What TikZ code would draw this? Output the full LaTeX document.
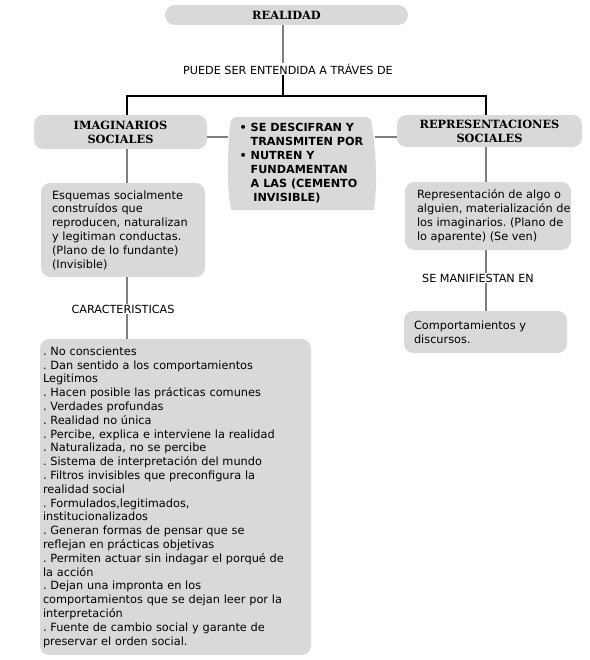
\documentclass[tikz,border=0pt]{standalone}
\usepackage{fontspec}
\setmainfont{DejaVu Sans}
\newfontfamily\serifhead{DejaVu Serif}
\definecolor{boxfill}{HTML}{D9D9D9}
\definecolor{linegray}{HTML}{7F7F7F}
\frenchspacing
\begin{document}
\frenchspacing
\begin{tikzpicture}[x=0.75pt,y=-0.75pt,
  box/.style={fill=boxfill, rounded corners=7pt, inner ysep=0pt},
  conn/.style={draw=linegray, line width=0.9pt},
  mainconn/.style={draw=black, line width=1.3pt},
  lbl/.style={font=\fontsize{8.4}{10.3}\selectfont, inner sep=0.5pt},
  head/.style={font=\fontsize{8.5}{10.6}\selectfont\serifhead\bfseries, align=center, inner xsep=0pt},
  body/.style={font=\fontsize{8.5}{10.35}\selectfont, align=left},
  midtext/.style={font=\fontsize{8.4}{10.5}\selectfont\bfseries, align=left, inner sep=0pt}
]
\useasboundingbox (0,0) rectangle (589,660);

% boxes
\node[box, head, minimum width=182.25pt, minimum height=15pt, rounded corners=7.5pt] (real) at (286.5,15) {REALIDAD};
\node[box, head, minimum width=129.75pt, minimum height=25.5pt] (imag) at (120.5,132) {IMAGINARIOS\\SOCIALES};
\node[box, head, minimum width=138.75pt, minimum height=24pt] (repr) at (489.5,131) {REPRESENTACIONES\\SOCIALES};

% centre box with slightly bulging sides
\fill[boxfill] (238,117) -- (364,117)
  .. controls (370,117) and (372,120) .. (372,126)
  .. controls (377,158) and (377,188) .. (374,210)
  -- (231,210)
  .. controls (227,188) and (227,158) .. (230,126)
  .. controls (230,120) and (232,117) .. (238,117) -- cycle;
\node[midtext, minimum width=110.25pt, minimum height=69.75pt] (mid) at (301.5,163.5)
  {\textbullet\ SE DESCIFRAN Y\\
   \phantom{\textbullet\ }TRANSMITEN POR\\
   \textbullet\ NUTREN Y\\
   \phantom{\textbullet\ }FUNDAMENTAN\\
   \phantom{\textbullet\ }A LAS (CEMENTO\\
   \phantom{\textbullet\ }\hspace{2pt}INVISIBLE)};

\node[box, body, inner xsep=8.25pt, text width=106.5pt, minimum height=70.5pt] (esq) at (123,230)
  {Esquemas socialmente\\
   construídos que\\
   reproducen, naturalizan\\
   y legitiman conductas.\\
   (Plano de lo fundante)\\
   (Invisible)};

\node[box, body, inner xsep=2.25pt, text width=198.75pt, minimum height=237pt] (list) at (175.5,497)
  {. No conscientes\\
   . Dan sentido a los comportamientos\\
   Legitimos\\
   . Hacen posible las prácticas comunes\\
   . Verdades profundas\\
   . Realidad no única\\
   . Percibe, explica e interviene la realidad\\
   . Naturalizada, no se percibe\\
   . Sistema de interpretación del mundo\\
   . Filtros invisibles que preconfigura la\\
   realidad social\\
   . Formulados,legitimados,\\
   institucionalizados\\
   . Generan formas de pensar que se\\
   reflejan en prácticas objetivas\\
   . Permiten actuar sin indagar el porqué de\\
   la acción\\
   . Dejan una impronta en los\\
   comportamientos que se dejan leer por la\\
   interpretación\\
   . Fuente de cambio social y garante de\\
   preservar el orden social.};

\node[box, minimum width=124.5pt, minimum height=51pt] (rep2) at (488,216) {};
\node[body, anchor=west, inner sep=0pt] (rep2text) at ([xshift=9pt]rep2.west)
  {Representación de algo o\\
   alguien, materialización de\\
   los imaginarios. (Plano de\\
   lo aparente) (Se ven)};

\node[box, minimum width=122.25pt, minimum height=31.5pt] (comp) at (485.5,332) {};
\node[body, anchor=west, inner sep=0pt] (comptext) at ([xshift=7.5pt]comp.west)
  {Comportamientos y\\
   discursos.};

% labels
\node[lbl] (puede) at (288,69) {PUEDE SER ENTENDIDA A TRÁVES DE};
\node[lbl] (carac) at (123,309) {CARACTERISTICAS};
\node[lbl] (manif) at (478,278) {SE MANIFIESTAN EN};

% junction coordinates
\coordinate (top) at (283,96);
\coordinate (bl) at (127,96);
\coordinate (br) at (486,96);
\coordinate (cy) at (0,137);

% connectors
\draw[conn] (real.south -| top) -- (puede.north -| top);
\draw[mainconn] (puede.south -| top) -- (top);
\draw[mainconn] (bl |- imag.north) -- (bl) -- (br) -- (br |- repr.north);
\draw[conn] (imag.east |- cy) -- (mid.west |- cy);
\draw[conn] (mid.east |- cy) -- (repr.west |- cy);
\draw[conn] (imag.south -| bl) -- (esq.north -| bl);
\draw[conn] (esq.south -| bl) -- (carac.north -| bl);
\draw[conn] (carac.south -| bl) -- (list.north -| bl);
\draw[conn] (repr.south -| br) -- (rep2.north -| br);
\draw[conn] (rep2.south -| br) -- (manif.north -| br);
\draw[conn] (manif.south -| br) -- (comp.north -| br);
\end{tikzpicture}
\end{document}
